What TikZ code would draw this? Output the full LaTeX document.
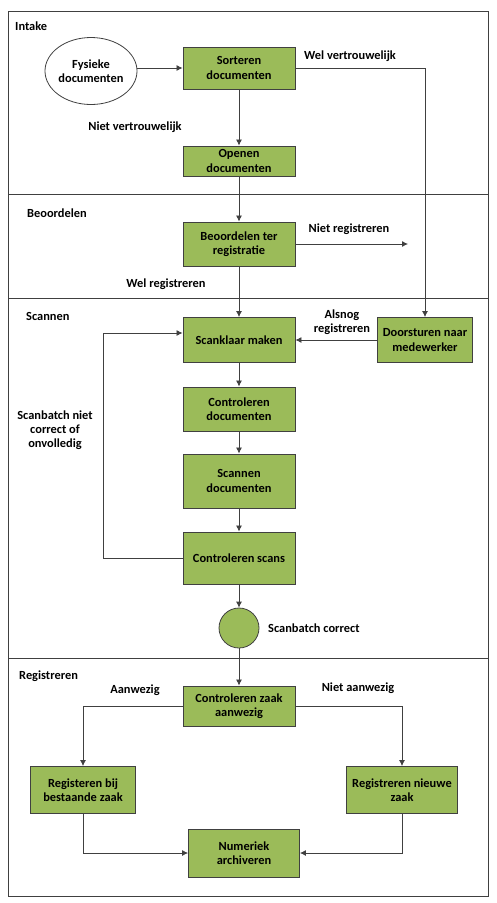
\documentclass[tikz,border=0pt]{standalone}
\usepackage{fontspec}
\setmainfont{Carlito}
\usetikzlibrary{shapes.geometric,arrows.meta}
\definecolor{taskgreen}{HTML}{9BBB59}
\definecolor{linegray}{HTML}{404040}

\begin{document}
\begin{tikzpicture}[x=1pt,y=-1pt,font=\fontsize{12.4}{14.3}\selectfont\bfseries]
\tikzstyle{task}=[draw=linegray,fill=taskgreen,line width=0.9pt,align=center,inner sep=1pt,minimum width=112pt]
\tikzstyle{flow}=[draw=linegray,line width=0.8pt,-{Latex[length=6pt,width=6pt]}]
\tikzstyle{lbl}=[align=center,inner sep=0pt]
\tikzstyle{lanelbl}=[anchor=west,inner sep=0pt]

\useasboundingbox (0,0) rectangle (496,903);

% lanes
\draw [linegray,line width=0.9pt] (8,11) rectangle (488,896);
\draw [linegray,line width=0.9pt] (8,194) -- (488,194) (8,298) -- (488,298) (8,658) -- (488,658);
\node (intake) [lanelbl] at (15,26) {Intake};
\node (beoord) [lanelbl] at (27,213) {Beoordelen};
\node (scannen) [lanelbl] at (26,316) {Scannen};
\node (registr) [lanelbl] at (19,676) {Registreren};

% intake
\node (fysiek) [ellipse,draw=linegray,fill=white,line width=0.8pt,align=center,minimum width=90pt,minimum height=67pt,inner sep=0pt] at (91,71) {Fysieke\\documenten};
\node (sort) [task,minimum height=42pt] at (239,68) {Sorteren\\documenten};
\node (open) [task,minimum height=30pt] at (239,161) {Openen\\documenten};

% beoordelen
\node (beoo) [task,minimum height=44pt] at (239,244) {Beoordelen ter\\registratie};
\coordinate (nietreg) at (408,244);

% scannen
\node (klaar) [task,minimum height=45pt] at (239,340) {Scanklaar maken};
\node (door) [task,minimum width=95pt,minimum height=45pt] at (425,340) {Doorsturen naar\\medewerker};
\node (contdoc) [task,minimum height=44pt] at (239,409) {Controleren\\documenten};
\node (scandoc) [task,minimum height=54pt] at (239,481) {Scannen\\documenten};
\node (contscan) [task,minimum height=52pt] at (239,558) {Controleren scans};
\node (correct) [circle,draw=linegray,fill=taskgreen,line width=0.8pt,minimum size=40pt,inner sep=0pt] at (239,628) {};
\coordinate (loop) at (103,558);

% registreren
\node (zaak) [task,minimum height=40pt] at (239,706) {Controleren zaak\\aanwezig};
\node (regbij) [task,minimum width=105pt,minimum height=47pt] at (83,790) {Registeren bij\\bestaande zaak};
\node (regnieuw) [task,minimum width=111pt,minimum height=47pt] at (402,790) {Registreren nieuwe\\zaak};
\node (numeriek) [task,minimum width=111pt,minimum height=48pt] at (244,853) {Numeriek\\archiveren};

% connectors
\draw [flow] (fysiek.east |- sort.west) -- (sort.west);
\draw [flow] (sort.east) -| (door.north);
\draw [flow] (sort) -- (open);
\draw [flow] (open) -- (beoo);
\draw [flow] (beoo.east) -- (nietreg);
\draw [flow] (beoo) -- (klaar);
\draw [flow] (door) -- (klaar);
\draw [flow] (klaar) -- (contdoc);
\draw [flow] (contdoc) -- (scandoc);
\draw [flow] (scandoc) -- (contscan);
\draw [flow] (contscan) -- (correct);
\draw [flow] (contscan.west) -- (loop) |- ([yshift=7pt]klaar.west);
\draw [flow] (correct) -- (zaak);
\draw [flow] (zaak.west) -| (regbij.north);
\draw [flow] (zaak.east) -| (regnieuw.north);
\draw [flow] (regbij.south) |- (numeriek.west);
\draw [flow] (regnieuw.south) |- (numeriek.east);

% labels
\node (lwelvert) [lbl] at (350,56) {Wel vertrouwelijk};
\node (lnietvert) [lbl] at (135,127) {Niet vertrouwelijk};
\node (lnietreg) [lbl] at (349,229) {Niet registreren};
\node (lwelreg) [lbl] at (166,284) {Wel registreren};
\node (lalsnog) [lbl] at (342,322) {Alsnog\\registreren};
\node (lniet) [lbl] at (55,430) {Scanbatch niet\\correct of\\onvolledig};
\node (lcorrect) [lbl,anchor=west] at (268,628) {Scanbatch correct};
\node (laanw) [lbl] at (135,690) {Aanwezig};
\node (lnietaanw) [lbl] at (358,688) {Niet aanwezig};

\end{tikzpicture}
\end{document}
